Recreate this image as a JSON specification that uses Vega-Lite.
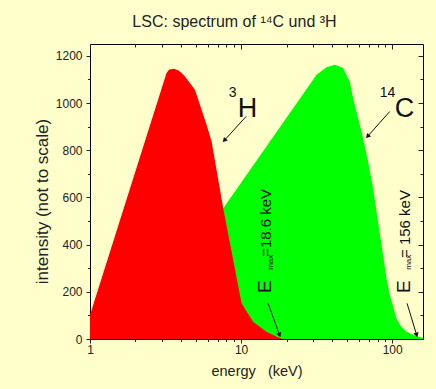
{
  "$schema": "https://vega.github.io/schema/vega-lite/v6.json",
  "width": 333,
  "height": 295,
  "autosize": {"type": "none"},
  "padding": {"left": 90, "top": 44, "right": 13, "bottom": 50},
  "background": "#FFFFCC",
  "config": {
    "view": {"stroke": "#000000", "strokeWidth": 1, "fill": "#FFFFCC"},
    "font": "Liberation Sans",
    "axis": {
      "domain": false,
      "grid": false,
      "labelFont": "Liberation Sans",
      "labelFontSize": 12,
      "labelColor": "#222222",
      "tickColor": "#222222",
      "titleFont": "Liberation Sans",
      "titleFontWeight": "normal",
      "titleColor": "#222222",
      "labelFlush": false
    }
  },
  "title": {
    "text": "LSC: spectrum of ¹⁴C und ³H",
    "font": "Liberation Sans",
    "fontSize": 16,
    "fontWeight": "normal",
    "color": "#222222",
    "anchor": "middle",
    "frame": "group",
    "dx": -22,
    "offset": 1,
    "baseline": "alphabetic"
  },
  "datasets": {
    "green": [
      {"x": 1, "y": 0}, {"x": 1.9, "y": 0}, {"x": 7.62, "y": 554}, {"x": 31.6, "y": 1120},
      {"x": 33.2, "y": 1130}, {"x": 36.8, "y": 1151}, {"x": 41.7, "y": 1162}, {"x": 47.3, "y": 1148},
      {"x": 52.4, "y": 1091}, {"x": 55.1, "y": 1021}, {"x": 59.5, "y": 936}, {"x": 64.2, "y": 851},
      {"x": 69.3, "y": 752}, {"x": 74.8, "y": 639}, {"x": 80.7, "y": 497}, {"x": 87.1, "y": 356},
      {"x": 91.7, "y": 257}, {"x": 96.4, "y": 187}, {"x": 106.7, "y": 88}, {"x": 114, "y": 55},
      {"x": 124, "y": 31}, {"x": 140, "y": 16}, {"x": 152, "y": 9}, {"x": 160, "y": 5}
    ],
    "red": [
      {"x": 1, "y": 102}, {"x": 3.21, "y": 1127}, {"x": 3.35, "y": 1142}, {"x": 3.6, "y": 1145},
      {"x": 3.85, "y": 1138}, {"x": 4.04, "y": 1127}, {"x": 4.25, "y": 1112}, {"x": 4.95, "y": 1056},
      {"x": 5.91, "y": 908}, {"x": 6.38, "y": 837}, {"x": 7.62, "y": 554}, {"x": 10.07, "y": 151},
      {"x": 12.0, "y": 73}, {"x": 14.7, "y": 31}, {"x": 18.1, "y": 3}, {"x": 18.6, "y": 0}
    ],
    "arrows": [
      {"x": 10.8, "y": 943, "x2": 7.81, "y2": 844},
      {"x": 96.4, "y": 964, "x2": 69.3, "y2": 861},
      {"x": 15.1, "y": 151, "x2": 17.9, "y2": 20},
      {"x": 125.5, "y": 151, "x2": 144.8, "y2": 20}
    ],
    "big": [
      {"x": 9.52, "y": 941, "t": "H"},
      {"x": 104.0, "y": 941, "t": "C"}
    ],
    "sup": [
      {"x": 8.3, "y": 1026, "t": "3"},
      {"x": 82.8, "y": 1026, "t": "14"}
    ],
    "emaxE": [
      {"x": 15.86, "y": 195, "t": "E"},
      {"x": 130.8, "y": 195, "t": "E"}
    ],
    "emaxSub": [
      {"x": 16.2, "y": 293, "t": "max"},
      {"x": 133.8, "y": 293, "t": "max"}
    ],
    "emaxVal": [
      {"x": 15.86, "y": 348, "t": "=18.6 keV"},
      {"x": 130.8, "y": 343, "t": "= 156 keV"}
    ]
  },
  "layer": [
    {
      "data": {"name": "green"},
      "mark": {"type": "area", "color": "#00FF00", "opacity": 1},
      "encoding": {
        "x": {
          "field": "x", "type": "quantitative",
          "scale": {"type": "log", "domain": [1, 160], "nice": false},
          "axis": {
            "orient": "bottom", "values": [1, 10, 100], "tickSize": 4, "labelPadding": 1,
            "title": "energy\u00a0\u00a0\u00a0(keV)", "titleFontSize": 14.5, "titlePadding": 9
          }
        },
        "y": {
          "field": "y", "type": "quantitative",
          "scale": {"domain": [0, 1250], "nice": false},
          "axis": {
            "orient": "left", "values": [0, 200, 400, 600, 800, 1000, 1200], "format": "d", "tickSize": 4, "labelPadding": 4,
            "title": "intensity (not to scale)", "titleFontSize": 17, "titlePadding": 4, "titleY": 157
          }
        }
      }
    },
    {
      "data": {"name": "red"},
      "mark": {"type": "area", "color": "#FF0000", "opacity": 1},
      "encoding": {
        "x": {
          "field": "x", "type": "quantitative",
          "axis": {"orient": "bottom", "values": [2, 3, 4, 5, 6, 7, 8, 9, 20, 30, 40, 50, 60, 70, 80, 90], "tickSize": 2.5, "labels": false, "title": null}
        },
        "y": {
          "field": "y", "type": "quantitative",
          "axis": {"orient": "left", "values": [100, 300, 500, 700, 900, 1100], "tickSize": 2.5, "labels": false, "title": null}
        }
      }
    },
    {
      "data": {"name": "arrows"},
      "mark": {"type": "rule", "color": "#111111", "strokeWidth": 1},
      "encoding": {
        "x": {
          "field": "x", "type": "quantitative",
          "axis": {"orient": "top", "values": [1, 10, 100], "tickSize": -5, "labels": false, "title": null}
        },
        "y": {
          "field": "y", "type": "quantitative",
          "axis": {"orient": "right", "values": [0, 200, 400, 600, 800, 1000, 1200], "tickSize": -5, "labels": false, "title": null}
        },
        "x2": {"field": "x2"},
        "y2": {"field": "y2"}
      }
    },
    {
      "data": {"name": "arrows"},
      "transform": [
        {"calculate": "atan2(log(datum.x2/datum.x)/LN10*151.2, (datum.y2-datum.y)*0.2358)*180/PI", "as": "ang"}
      ],
      "mark": {"type": "point", "shape": "triangle", "filled": true, "size": 28, "color": "#111111", "opacity": 1},
      "encoding": {
        "x": {
          "field": "x2", "type": "quantitative",
          "axis": {"orient": "top", "values": [2, 3, 4, 5, 6, 7, 8, 9, 20, 30, 40, 50, 60, 70, 80, 90], "tickSize": -3, "labels": false, "title": null}
        },
        "y": {
          "field": "y2", "type": "quantitative",
          "axis": {"orient": "right", "values": [100, 300, 500, 700, 900, 1100], "tickSize": -3, "labels": false, "title": null}
        },
        "angle": {"field": "ang", "type": "quantitative", "scale": null}
      }
    },
    {
      "data": {"name": "big"},
      "mark": {"type": "text", "font": "Liberation Sans", "fontSize": 27, "align": "left", "baseline": "alphabetic", "color": "#111111"},
      "encoding": {
        "x": {"field": "x", "type": "quantitative", "axis": null},
        "y": {"field": "y", "type": "quantitative", "axis": null},
        "text": {"field": "t"}
      }
    },
    {
      "data": {"name": "sup"},
      "mark": {"type": "text", "font": "Liberation Sans", "fontSize": 14, "align": "left", "baseline": "alphabetic", "color": "#111111"},
      "encoding": {
        "x": {"field": "x", "type": "quantitative", "axis": null},
        "y": {"field": "y", "type": "quantitative", "axis": null},
        "text": {"field": "t"}
      }
    },
    {
      "data": {"name": "emaxE"},
      "mark": {"type": "text", "font": "Liberation Sans", "fontSize": 19, "align": "left", "baseline": "alphabetic", "angle": 270, "color": "#111111"},
      "encoding": {
        "x": {"field": "x", "type": "quantitative", "axis": null},
        "y": {"field": "y", "type": "quantitative", "axis": null},
        "text": {"field": "t"}
      }
    },
    {
      "data": {"name": "emaxSub"},
      "mark": {"type": "text", "font": "Liberation Sans", "fontSize": 8, "align": "left", "baseline": "alphabetic", "angle": 270, "color": "#111111"},
      "encoding": {
        "x": {"field": "x", "type": "quantitative", "axis": null},
        "y": {"field": "y", "type": "quantitative", "axis": null},
        "text": {"field": "t"}
      }
    },
    {
      "data": {"name": "emaxVal"},
      "mark": {"type": "text", "font": "Liberation Sans", "fontSize": 15, "align": "left", "baseline": "alphabetic", "angle": 270, "color": "#111111"},
      "encoding": {
        "x": {"field": "x", "type": "quantitative", "axis": null},
        "y": {"field": "y", "type": "quantitative", "axis": null},
        "text": {"field": "t"}
      }
    }
  ],
  "resolve": {"axis": {"x": "independent", "y": "independent"}}
}
